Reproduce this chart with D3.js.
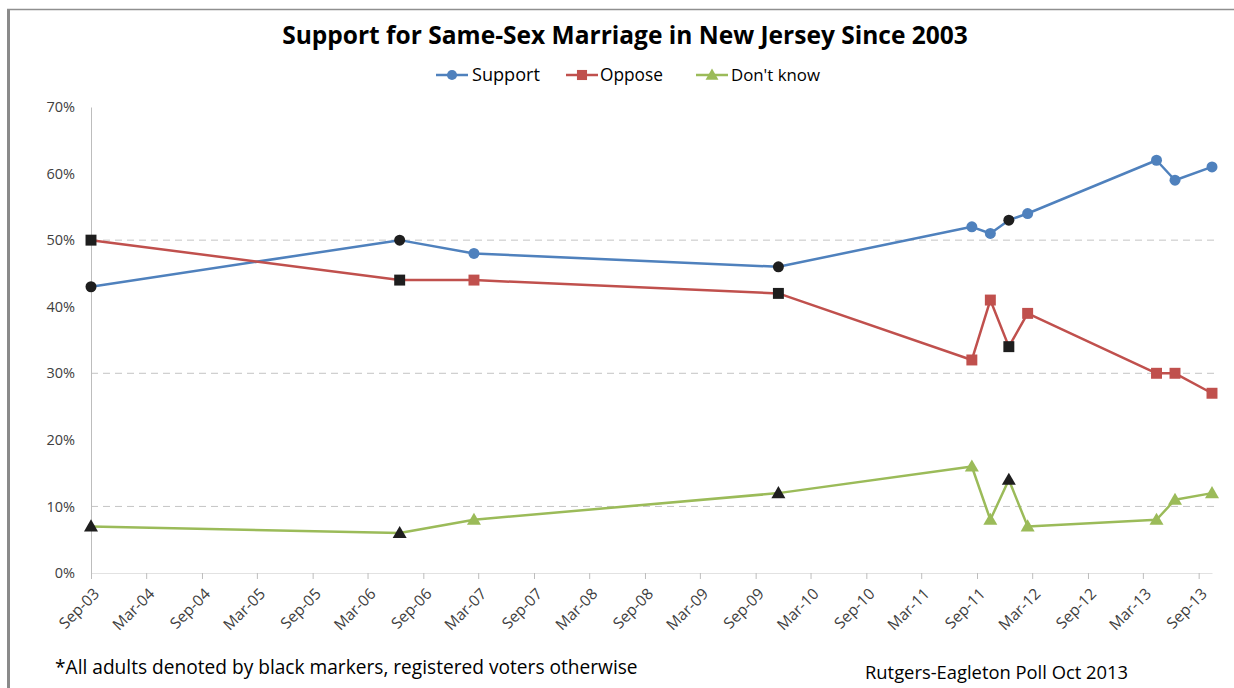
<!DOCTYPE html>
<html>
<head>
<meta charset="utf-8">
<script src="https://cdn.jsdelivr.net/npm/d3@7"></script>
<style>
  html, body { margin: 0; padding: 0; background: #fff; }
  svg { display: block; }
  text { font-family: "Open Sans", "Noto Sans", sans-serif; }
</style>
</head>
<body>
<svg id="chart" width="1234" height="688"></svg>
<script>
// ---- Data ----
const pollDates = ["2003-09-01", "2006-06-15", "2007-02-15", "2009-11-15", "2011-08-15",
                   "2011-10-15", "2011-12-15", "2012-02-15", "2013-04-15", "2013-06-15", "2013-10-15"];
const support   = [43, 50, 48, 46, 52, 51, 53, 54, 62, 59, 61];
const oppose    = [50, 44, 44, 42, 32, 41, 34, 39, 30, 30, 27];
const dontKnow  = [7, 6, 8, 12, 16, 8, 14, 7, 8, 11, 12];
const allAdults = [true, true, false, true, false, false, true, false, false, false, false];
const seriesNames = ["Support", "Oppose", "Don't know"];
const yTickValues = [0, 10, 20, 30, 40, 50, 60, 70];
const gridValues  = [10, 30, 50];
const titleText = "Support for Same-Sex Marriage in New Jersey Since 2003";
const footnoteText = "*All adults denoted by black markers, registered voters otherwise";
const sourceText = "Rutgers-Eagleton Poll Oct 2013";

// ---- Setup ----
const svg = d3.select("#chart");
const W = 1234, H = 688;
const plot = { left: 91, right: 1212, top: 107, bottom: 573 };
const colors = ["#4F81BD", "#C0504D", "#9BBB59"];
const shapes = [d3.symbolCircle, d3.symbolSquare, d3.symbolTriangle];
const shapeSizes = [95, 120, 85];
const black = "#1e1e1e";
const parse = d3.timeParse("%Y-%m-%d");
const dates = pollDates.map(parse);
const seriesValues = [support, oppose, dontKnow];

const x = d3.scaleTime().domain([dates[0], dates[dates.length - 1]]).range([plot.left, plot.right]);
const y = d3.scaleLinear().domain([0, 70]).range([plot.bottom, plot.top]);

// Border (left thick, top thin)
svg.append("line").attr("x1", 8.5).attr("x2", 8.5).attr("y1", 9).attr("y2", H)
  .attr("stroke", "#8a8a8a").attr("stroke-width", 3);
svg.append("line").attr("x1", 7).attr("x2", W).attr("y1", 9.5).attr("y2", 9.5)
  .attr("stroke", "#8f8f8f").attr("stroke-width", 1.5);

function fitText(sel, targetWidth) {
  const node = sel.node();
  const fs = parseFloat(sel.attr("font-size"));
  const w = node.getComputedTextLength();
  sel.attr("font-size", (fs * targetWidth / w).toFixed(2));
}

// Title
const title = svg.append("text").attr("x", 625).attr("y", 44).attr("text-anchor", "middle")
  .attr("font-size", 22).attr("font-weight", "bold").attr("fill", "#000").text(titleText);
fitText(title, 686);

// Gridlines
svg.append("g").selectAll("line").data(gridValues).join("line")
  .attr("x1", plot.left).attr("x2", plot.right + 4)
  .attr("y1", d => y(d)).attr("y2", d => y(d))
  .attr("stroke", "#c4c4c4").attr("stroke-width", 1).attr("stroke-dasharray", "7,5");

// Y axis
const yAxis = d3.axisLeft(y).tickValues(yTickValues).tickFormat(d => d + "%").tickSize(0).tickPadding(16);
const gy = svg.append("g").attr("transform", `translate(${plot.left},0)`).call(yAxis);
gy.attr("font-size", null);
gy.select(".domain").attr("stroke", "#bdbdbd");
gy.selectAll("text").style("font-size", "14.5px").attr("fill", "#404040");

// X axis
const xTicks = d3.timeMonth.range(dates[0], d3.timeDay.offset(dates[dates.length - 1], 1), 6);
const xAxis = d3.axisBottom(x).tickValues(xTicks).tickFormat(d3.timeFormat("%b-%y")).tickSize(6).tickSizeOuter(0);
const gx = svg.append("g").attr("transform", `translate(0,${plot.bottom})`).call(xAxis);
gx.attr("font-size", null);
gx.select(".domain").attr("stroke", "#e2e2e2");
gx.selectAll(".tick line").attr("stroke", "#bdbdbd");
gx.selectAll("text").style("font-size", "15.5px").attr("fill", "#404040")
  .attr("text-anchor", "end").attr("dy", "0.35em").attr("y", 0)
  .attr("transform", "translate(5,18) rotate(-45)");

// Lines and markers
const line = d3.line().x((d, i) => x(dates[i])).y(d => y(d));
seriesValues.forEach((vals, s) => {
  svg.append("path").datum(vals).attr("d", line)
    .attr("fill", "none").attr("stroke", colors[s]).attr("stroke-width", 2.5)
    .attr("stroke-linejoin", "round");
});
seriesValues.forEach((vals, s) => {
  const sym = d3.symbol().type(shapes[s]).size(shapeSizes[s]);
  svg.append("g").selectAll("path").data(vals).join("path")
    .attr("d", sym)
    .attr("transform", (d, i) => `translate(${x(dates[i])},${y(d) + (s === 2 ? 1 : 0)})`)
    .attr("fill", (d, i) => allAdults[i] ? black : colors[s]);
});

// Legend
const legendItems = [
  { lx: 436, tx: 472, w: 68 },
  { lx: 566, tx: 600, w: 63 },
  { lx: 696, tx: 731, w: 89 }
];
const ly = 75;
legendItems.forEach((it, s) => {
  const g = svg.append("g");
  g.append("line").attr("x1", it.lx).attr("x2", it.lx + 32).attr("y1", ly).attr("y2", ly)
    .attr("stroke", colors[s]).attr("stroke-width", 2.5);
  g.append("path").attr("d", d3.symbol().type(shapes[s]).size(shapeSizes[s] * 0.85)())
    .attr("transform", `translate(${it.lx + 16},${ly + (s === 2 ? 1 : 0)})`).attr("fill", colors[s]);
  const t = g.append("text").attr("x", it.tx).attr("y", ly).attr("dy", "0.35em")
    .attr("font-size", 15).attr("fill", "#000").text(seriesNames[s]);
  fitText(t, it.w);
});

// Footnotes
const fn = svg.append("text").attr("x", 55).attr("y", 674).attr("font-size", 15)
  .attr("fill", "#000").text(footnoteText);
fitText(fn, 583);
const src = svg.append("text").attr("x", 865).attr("y", 679).attr("font-size", 15)
  .attr("fill", "#000").text(sourceText);
fitText(src, 263);
</script>
</body>
</html>
